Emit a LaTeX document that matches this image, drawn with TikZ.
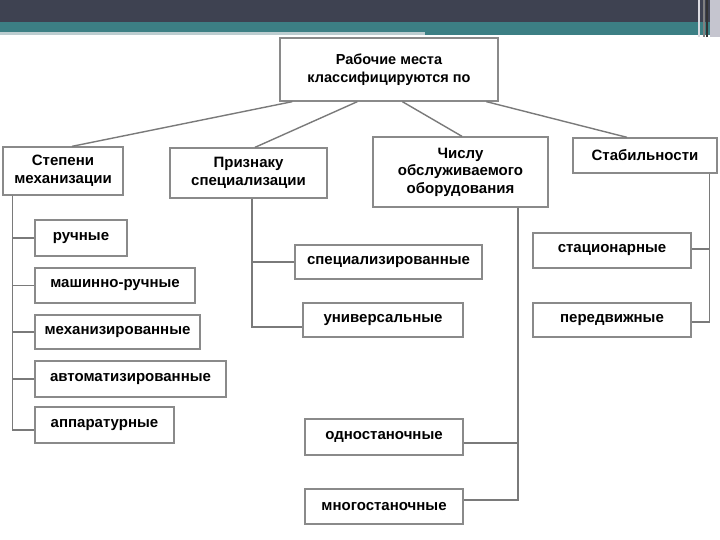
\documentclass[tikz,border=0pt]{standalone}
\usepackage{fontspec}
\setmainfont{Liberation Sans}
\definecolor{barDark}{HTML}{3E4251}
\definecolor{barTeal}{HTML}{3C7F84}
\definecolor{barStrip}{HTML}{BCCDD0}
\definecolor{barSide}{HTML}{C5C5CF}
\definecolor{boxLine}{HTML}{8A8A8A}
\definecolor{wireLine}{HTML}{7A7A7A}
\begin{document}
\begin{tikzpicture}[x=1pt,y=-1pt,
  box/.style={draw=boxLine, line width=1.3pt, fill=white, inner sep=0pt, align=center,
    font=\fontsize{15}{18}\selectfont\bfseries},
  wire/.style={draw=wireLine, line width=1.4pt}]
\useasboundingbox (0,0) rectangle (720,540);
\fill[white] (0,0) rectangle (720,540);
% top bar
\fill[barDark] (0,0) rectangle (720,22);
\fill[barTeal] (0,22) rectangle (720,35);
\fill[barStrip] (0,32) rectangle (425,35.5);
\fill[barSide] (710,0) rectangle (720,37);
\fill[barSide!60!white] (698,0) rectangle (700,37);
\fill[gray] (703,0) rectangle (705,37);
\fill[black!80] (706,0) rectangle (708,37);

% nodes
\node[box, minimum width=218, minimum height=63, font=\fontsize{14.5}{18}\selectfont\bfseries] (top) at (389,69.5) {Рабочие места\\классифицируются по};
\node[box, minimum width=120, minimum height=48, font=\fontsize{15}{17.5}\selectfont\bfseries] (st) at (63,171) {Степени\\механизации};
\node[box, minimum width=157, minimum height=50, font=\fontsize{15}{17.5}\selectfont\bfseries] (pr) at (248.5,173) {Признаку\\специализации};
\node[box, minimum width=175, minimum height=70, font=\fontsize{15}{17.5}\selectfont\bfseries] (ch) at (460.5,172) {Числу\\обслуживаемого\\оборудования};
\node[box, minimum width=144, minimum height=35] (stab) at (645,155.5) {Стабильности};

\node[box, minimum width=92, minimum height=36] (ruch) at (81,238) {ручные};
\node[box, minimum width=160, minimum height=35] (mr) at (115,285.5) {машинно-ручные};
\node[box, minimum width=165, minimum height=34] (mech) at (117.5,332) {механизированные};
\node[box, minimum width=191, minimum height=36] (avt) at (130.5,379) {автоматизированные};
\node[box, minimum width=139, minimum height=36] (app) at (104.5,425) {аппаратурные};

\node[box, minimum width=187, minimum height=34] (spec) at (388.5,262) {специализированные};
\node[box, minimum width=160, minimum height=34] (univ) at (383,320) {универсальные};

\node[box, minimum width=158, minimum height=36] (odn) at (384,437) {одностаночные};
\node[box, minimum width=158, minimum height=35] (mn) at (384,506.5) {многостаночные};

\node[box, minimum width=158, minimum height=35] (stac) at (612,250.5) {стационарные};
\node[box, minimum width=158, minimum height=34] (per) at (612,320) {передвижные};

% top connectors
\draw[wire] ([xshift=13]top.south west) -- ([xshift=9]st.north);
\draw[wire] ([xshift=78]top.south west) -- ([xshift=6.5]pr.north);
\draw[wire] ([xshift=123]top.south west) -- ([xshift=1.5]ch.north);
\draw[wire] ([xshift=207]top.south west) -- ([xshift=-18]stab.north);

% left branch
\coordinate (stx) at ([xshift=10]st.south west);
\draw[wire] (stx) |- (ruch.west);
\draw[wire] (stx) |- (mr.west);
\draw[wire] (stx) |- (mech.west);
\draw[wire] (stx) |- (avt.west);
\draw[wire] (stx) |- ([yshift=-5]app.west);

% specialization branch
\coordinate (prx) at ([xshift=3.5]pr.south);
\draw[wire] (prx) |- (spec.west);
\draw[wire] (prx) |- ([yshift=-7]univ.west);

% number branch
\coordinate (chx) at ([xshift=57.5]ch.south);
\draw[wire] (chx) |- ([yshift=-6]odn.east);
\draw[wire] (chx) |- ([yshift=6.5]mn.east);

% stability branch
\coordinate (sbx) at ([xshift=-8]stab.south east);
\draw[wire] (sbx) |- ([yshift=1.5]stac.east);
\draw[wire] (sbx) |- ([yshift=-2]per.east);
\end{tikzpicture}
\end{document}
